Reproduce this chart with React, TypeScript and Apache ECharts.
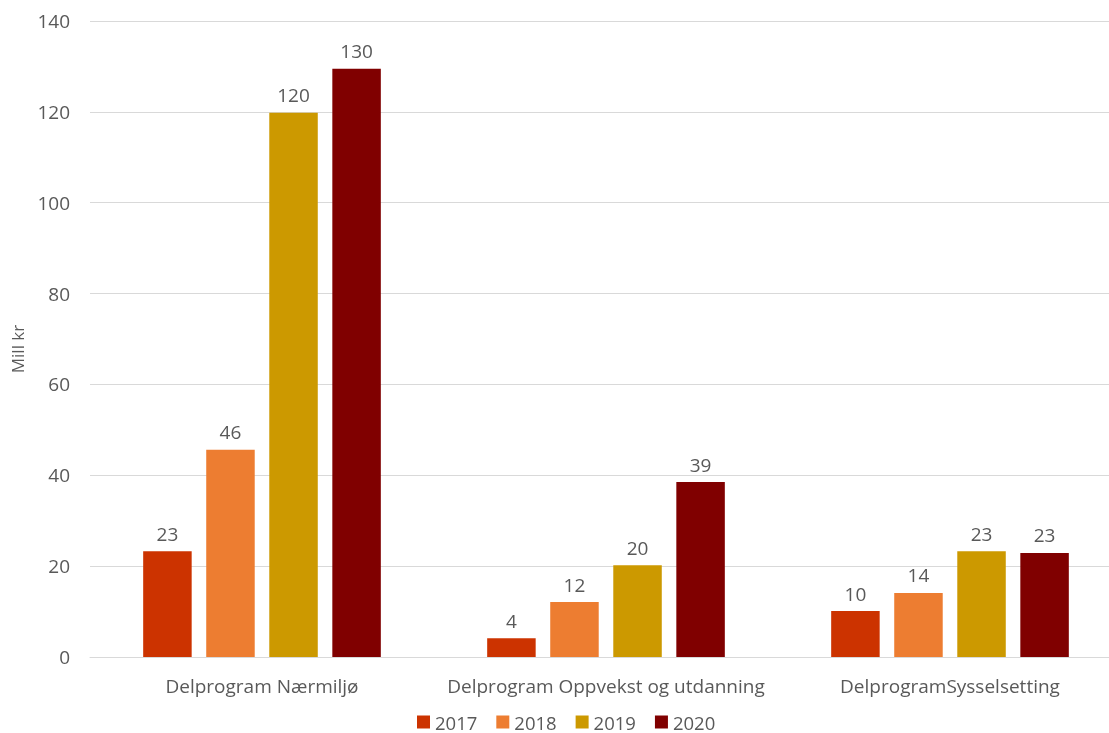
import React, { useEffect, useRef } from "react";
import * as echarts from "echarts";

const categories = ["Delprogram Nærmiljø", "Delprogram Oppvekst og utdanning", "DelprogramSysselsetting"];
const years = ["2017", "2018", "2019", "2020"];
const values2017 = [23.3, 4.1, 10.1];
const values2018 = [45.6, 12.1, 14.1];
const values2019 = [119.8, 20.2, 23.3];
const values2020 = [129.5, 38.5, 22.9];
const colors = ["#CC3300", "#ED7D31", "#CC9900", "#800000"];
const yTicks = { min: 0, max: 140, interval: 20 };
const yAxisTitle = "Mill kr";

export default function App() {
  const ref = useRef<HTMLDivElement>(null);
  useEffect(() => {
    if (!ref.current) return;
    const chart = echarts.init(ref.current, null, { renderer: "svg" });
    const font = "'Open Sans', 'Noto Sans', sans-serif";
    const textColor = "#595959";
    const seriesData = [values2017, values2018, values2019, values2020];
    chart.setOption({
      animation: false,
      textStyle: { fontFamily: font },
      grid: { left: 90, top: 21, right: 18, bottom: 76, containLabel: false },
      legend: {
        data: years,
        top: 707,
        left: 412,
        itemWidth: 13,
        itemHeight: 13,
        itemGap: 19,
        icon: "rect",
        textStyle: { color: textColor, fontSize: 18.5, lineHeight: 20, fontFamily: font },
      },
      graphic: [
        {
          type: "text",
          x: 17,
          y: 349,
          rotation: Math.PI / 2,
          style: {
            text: yAxisTitle,
            fill: textColor,
            font: `17px ${font}`,
            align: "center",
            verticalAlign: "middle",
          },
        },
      ],
      xAxis: {
        type: "category",
        data: categories,
        axisLine: { lineStyle: { color: "#D9D9D9" } },
        axisTick: { show: false },
        axisLabel: { color: textColor, fontSize: 19, margin: 19, interval: 0, fontFamily: font },
      },
      yAxis: {
        type: "value",
        min: yTicks.min,
        max: yTicks.max,
        interval: yTicks.interval,
        axisLine: { show: false },
        axisTick: { show: false },
        axisLabel: { color: textColor, fontSize: 19, margin: 20, fontFamily: font },
        splitLine: { lineStyle: { color: "#D9D9D9" } },
      },
      series: years.map((y, i) => ({
        name: y,
        type: "bar",
        data: seriesData[i],
        itemStyle: { color: colors[i] },
        barWidth: 48.5,
        barGap: "30%",
        label: {
          show: true,
          position: "top",
          distance: 8,
          color: textColor,
          fontSize: 19,
          fontFamily: font,
          formatter: (p: any) => String(Math.round(p.value)),
        },
      })),
    });
    return () => chart.dispose();
  }, []);
  return (
    <div style={{ position: "fixed", left: 0, top: 0, width: 1109, height: 733, overflow: "hidden" }}>
      <div ref={ref} style={{ width: 1140, height: 733 }} />
    </div>
  );
}
